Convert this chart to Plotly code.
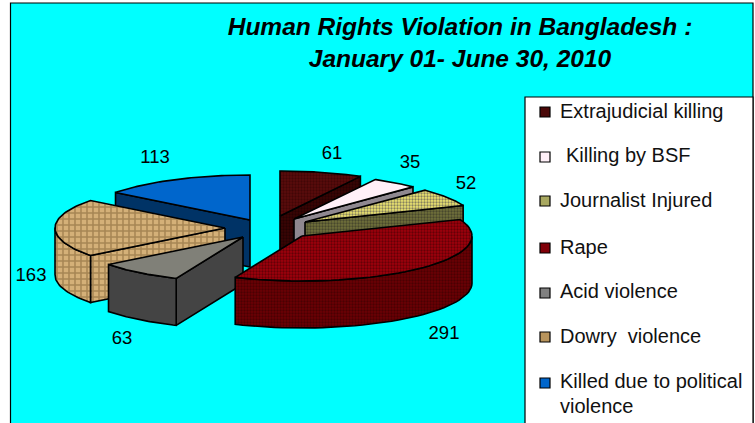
import numpy as np
import plotly.graph_objects as go

# ---- data ----
CATEGORIES = ["Extrajudicial killing", "Killing by BSF", "Journalist Injured", "Rape",
              "Acid violence", "Dowry  violence", "Killed due to political"]
VALUES = [61, 35, 52, 291, 63, 163, 113]

# ---- layout and style ----
W, H = 755, 423
CX, CY = 265, 226        # pie centre
RX, RY = 170, 45         # ellipse of the tilted pie
DEPTH = 47
OFFSET = [(15, -10), (29, -7), (40, -4), (37, 10), (-22, 11), (-40, 2), (-15, -6)]  # explosion
TOP_BG = ["#5a0c0c", "#fff0f8", "#ece470", "#a0000c", "#808078", "#d4b078", "#0066cc"]
TOP_FG = ["#2a0000", "#fff0f8", "#20204a", "#280000", "#808078", "#7a5c30", "#0066cc"]
SIDE_BG = ["#3a0404", "#8f8890", "#70703a", "#6c0004", "#444444", "#d4b078", "#003366"]
SIDE_FG = ["#100000", "#8f8890", "#202020", "#280000", "#444444", "#7a5c30", "#003366"]
SHAPE = [".", "", ".", ".", "", "+", ""]
SWATCH = ["#4a0808", "#fff0f8", "#a8a860", "#800008", "#808080", "#b8945c", "#0066cc"]
LABEL_POS = [(332, 154), (410, 163), (466, 184), (444, 334), (122, 339), (31, 276), (155, 158)]
LEGEND_Y = [112, 157, 201, 248, 293, 337, 383]
LEGEND_TEXT_Y = [111, 155, 200, 247, 291, 336, 381]
LEGEND_TEXT_X = [558, 564, 558, 558, 558, 558, 558]
DRAW_ORDER = [0, 1, 2, 6, 5, 4, 3]   # back to front

total = sum(VALUES)
edges = np.concatenate([[0], np.cumsum(VALUES)]) / total * 2 * np.pi

fig = go.Figure()


def poly(xs, ys, i, side):
    bg = (SIDE_BG if side else TOP_BG)[i]
    fg = (SIDE_FG if side else TOP_FG)[i]
    kw = {}
    if SHAPE[i]:
        kw["fillpattern"] = dict(shape=SHAPE[i], bgcolor=bg, fgcolor=fg, size=3 if SHAPE[i] == "." else 6,
                                 solidity=0.45, fillmode="overlay")
    fig.add_trace(go.Scatter(x=xs, y=ys, mode="lines", fill="toself", fillcolor=bg,
                             line=dict(color="black", width=1.6), hoverinfo="skip",
                             showlegend=False, **kw))


def wall_visible(ax, ay, ex, ey, ox, oy):
    """The wall below edge apex->e shows when the slice's other corner lies above that edge."""
    if abs(ex - ax) < 1:
        return False
    return oy < ay + (ey - ay) / (ex - ax) * (ox - ax)


for i in DRAW_ORDER:
    ax, ay = CX + OFFSET[i][0], CY + OFFSET[i][1]
    t = np.linspace(edges[i], edges[i + 1], 50)
    px = ax + RX * np.sin(t)
    py = ay - RY * np.cos(t)
    # radial walls
    for k, other in ((0, -1), (-1, 0)):
        if wall_visible(ax, ay, px[k], py[k], px[other], py[other]):
            poly([ax, px[k], px[k], ax, ax], [ay, py[k], py[k] + DEPTH, ay + DEPTH, ay], i, True)
    # outer wall
    front = np.cos(t) < 0.02
    if front.any():
        fx, fy = px[front], py[front]
        poly(np.r_[fx, fx[::-1], fx[0]], np.r_[fy, fy[::-1] + DEPTH, fy[0]], i, True)
    # top face
    poly(np.r_[ax, px, ax], np.r_[ay, py, ay], i, False)

# value labels
fig.add_trace(go.Scatter(x=[p[0] for p in LABEL_POS], y=[p[1] for p in LABEL_POS],
                         text=[str(v) for v in VALUES], mode="text",
                         textfont=dict(family="Liberation Sans", size=18.5, color="black"),
                         textposition="middle center", showlegend=False, hoverinfo="skip"))

# legend swatches
fig.add_trace(go.Scatter(x=[545] * len(SWATCH), y=LEGEND_Y, mode="markers", showlegend=False, hoverinfo="skip",
                         marker=dict(symbol="square", size=10, color=SWATCH, line=dict(color="black", width=1.2))))

LEGEND_FONT = dict(family="Liberation Sans", size=20, color="#111111")
annotations = []
for name, x, y in zip(CATEGORIES, LEGEND_TEXT_X, LEGEND_TEXT_Y):
    annotations.append(dict(x=x, y=y, text=name, xref="x", yref="y", xanchor="left", yanchor="middle",
                            showarrow=False, font=LEGEND_FONT))
annotations.append(dict(x=558, y=406, text="violence", xref="x", yref="y", xanchor="left", yanchor="middle",
                        showarrow=False, font=LEGEND_FONT))

fig.update_layout(
    width=W, height=H, autosize=False,
    margin=dict(l=0, r=0, t=0, b=0),
    paper_bgcolor="white", plot_bgcolor="white",
    xaxis=dict(range=[0, W], visible=False, fixedrange=True),
    yaxis=dict(range=[H, 0], visible=False, fixedrange=True),
    title=dict(text="Human Rights Violation in Bangladesh :<br>January 01- June 30, 2010",
               x=460 / W, xanchor="center", y=1 - 35 / H, yanchor="top",
               font=dict(family="Liberation Sans", size=24.5, color="black", weight="bold", style="italic")),
    annotations=annotations,
    shapes=[
        dict(type="rect", xref="x", yref="y", x0=10.5, x1=753, y0=3, y1=430, layer="below",
             fillcolor="#00ffff", line=dict(color="black", width=1.2)),
        dict(type="rect", xref="x", yref="y", x0=525, x1=753, y0=97, y1=430, layer="below",
             fillcolor="white", line=dict(color="black", width=1.2)),
    ],
)

fig.write_html("out.html", config={"displayModeBar": False},
               post_script="document.body.style.margin='0';document.body.style.overflow='hidden';")
